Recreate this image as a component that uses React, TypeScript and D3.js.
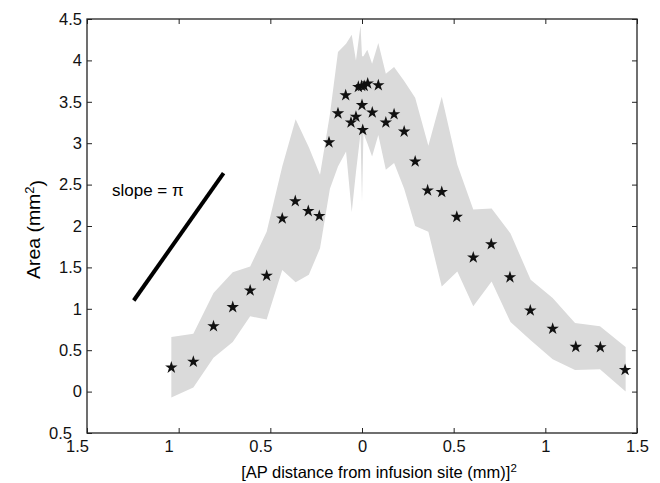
import { useEffect, useRef } from "react";
import * as d3 from "d3";

// star markers: signed squared AP distance vs. area
const point_x = [
  -1.04, -0.92, -0.81, -0.705, -0.61, -0.52, -0.435, -0.364, -0.293, -0.233, -0.18,
  -0.131, -0.089, -0.06, -0.033, -0.02, -0.002, 0.012, 0.031, 0.0, 0.004,
  0.056, 0.089, 0.13, 0.175, 0.23,
  0.29, 0.358, 0.435, 0.517, 0.607, 0.705, 0.807, 0.918, 1.04, 1.166, 1.3, 1.435
];
const point_y = [
  0.29, 0.36, 0.79, 1.02, 1.22, 1.4, 2.09, 2.3, 2.18, 2.12, 3.01,
  3.36, 3.58, 3.25, 3.32, 3.68, 3.69, 3.69, 3.72, 3.46, 3.16,
  3.37, 3.7, 3.25, 3.35, 3.14,
  2.78, 2.43, 2.41, 2.11, 1.62, 1.78, 1.38, 0.98, 0.76, 0.54, 0.535, 0.26
];

// grey spread band
const band_x = [
  -1.04, -0.92, -0.81, -0.705, -0.61, -0.52, -0.435, -0.362, -0.29, -0.229, -0.175,
  -0.131, -0.087, -0.056, -0.033, -0.008, 0.0, 0.008, 0.029, 0.055, 0.089, 0.13,
  0.175, 0.23, 0.29, 0.362, 0.435, 0.52, 0.607, 0.707, 0.81, 0.92, 1.04, 1.162,
  1.298, 1.438
];
const band_hi = [
  0.66, 0.7, 1.19, 1.44, 1.51, 1.93, 2.72, 3.29, 2.95, 2.62, 3.35,
  4.1, 4.2, 4.31, 4.0, 4.42, 4.05, 4.05, 4.13, 3.96, 4.21, 3.84,
  3.92, 3.75, 3.55, 2.97, 3.56, 2.74, 2.2, 2.21, 1.91, 1.35, 1.13, 0.83,
  0.79, 0.54
];
const band_lo = [
  -0.07, 0.05, 0.41, 0.6, 0.91, 0.87, 1.47, 1.32, 1.41, 1.73, 2.45,
  2.72, 2.9, 2.17, 2.65, 3.12, 2.29, 3.12, 3.0, 2.84, 3.1, 2.68,
  2.76, 2.45, 2.0, 1.93, 1.27, 1.45, 1.03, 1.33, 0.84, 0.62, 0.39, 0.26,
  0.27, 0.0
];

const x_ticks = [-1.5, -1, -0.5, 0, 0.5, 1, 1.5];
const x_tick_labels = ["1.5", "1", "0.5", "0", "0.5", "1", "1.5"];
const y_ticks = [-0.5, 0, 0.5, 1, 1.5, 2, 2.5, 3, 3.5, 4, 4.5];
const y_tick_labels = ["0.5", "0", "0.5", "1", "1.5", "2", "2.5", "3", "3.5", "4", "4.5"];

// reference line with slope pi
const slope_x = [-1.245, -0.755];
const slope_y0 = 1.1;
const slope_value = Math.PI;

export default function App() {
  const svg_ref = useRef<SVGSVGElement>(null);

  useEffect(() => {
    // constants
    const width = 660;
    const height = 483;
    const left = 87, right = 637, top = 19, bottom = 433;
    const font = "'Liberation Sans', Arial, Helvetica, sans-serif";

    const svg = d3.select(svg_ref.current);
    svg.selectAll("*").remove();
    svg.attr("width", width).attr("height", height);

    // scales
    const x_scale = d3.scaleLinear().domain([-1.5, 1.5]).range([left, right]);
    const y_scale = d3.scaleLinear().domain([-0.5, 4.5]).range([bottom, top]);

    // band
    const area = d3.area<number>()
      .x(i => x_scale(band_x[i]))
      .y0(i => y_scale(band_lo[i]))
      .y1(i => y_scale(band_hi[i]));
    svg.append("path")
      .datum(d3.range(band_x.length))
      .attr("d", area)
      .attr("fill", "#dadada");

    // slope line
    const slope_line = d3.line<number>()
      .x(d => x_scale(d))
      .y(d => y_scale(slope_y0 + (d - slope_x[0]) * slope_value));
    svg.append("path")
      .datum(slope_x)
      .attr("d", slope_line)
      .attr("stroke", "#000")
      .attr("stroke-width", 4)
      .attr("fill", "none");

    svg.append("text")
      .attr("x", 112)
      .attr("y", 196)
      .attr("font-family", font)
      .attr("font-size", 17)
      .text("slope = \u03c0");

    // stars
    const star = d3.symbol().type(d3.symbolStar).size(48);
    svg.selectAll(".dot")
      .data(d3.range(point_x.length)).enter()
      .append("path")
      .attr("class", "dot")
      .attr("d", star)
      .attr("transform", i => "translate(" + x_scale(point_x[i]) + "," + y_scale(point_y[i]) + ")")
      .attr("fill", "#111");

    // axes
    const style_axis = (g: any) => {
      g.select(".domain").remove();
      g.selectAll("line").attr("stroke", "#222");
      g.selectAll("text").attr("font-family", font).attr("font-size", 16.5).attr("fill", "#111");
      // negative labels sit where their (missing) minus sign would push them
      g.selectAll(".tick text").attr("dx", (d: number) => (d < 0 ? -10 : 0));
    };

    svg.append("g")
      .attr("transform", "translate(0," + bottom + ")")
      .call(d3.axisBottom(x_scale).tickValues(x_ticks).tickSizeInner(-5).tickSizeOuter(0).tickPadding(7)
        .tickFormat((d, i) => x_tick_labels[i]))
      .call(style_axis);
    svg.append("g")
      .attr("transform", "translate(0," + top + ")")
      .call(d3.axisTop(x_scale).tickValues(x_ticks).tickSizeInner(-5).tickSizeOuter(0).tickFormat(() => ""))
      .call(style_axis);
    svg.append("g")
      .attr("transform", "translate(" + left + ",0)")
      .call(d3.axisLeft(y_scale).tickValues(y_ticks).tickSizeInner(-5).tickSizeOuter(0).tickPadding(5)
        .tickFormat((d, i) => y_tick_labels[i]))
      .call(style_axis);
    svg.append("g")
      .attr("transform", "translate(" + right + ",0)")
      .call(d3.axisRight(y_scale).tickValues(y_ticks).tickSizeInner(-5).tickSizeOuter(0).tickFormat(() => ""))
      .call(style_axis);

    // box
    svg.append("rect")
      .attr("x", left)
      .attr("y", top)
      .attr("width", right - left)
      .attr("height", bottom - top)
      .attr("fill", "none")
      .attr("stroke", "#222")
      .attr("stroke-width", 1.3);

    // axis titles
    const x_title = svg.append("text")
      .attr("x", (left + right) / 2 + 17)
      .attr("y", 478)
      .attr("text-anchor", "middle")
      .attr("font-family", font)
      .attr("font-size", 16.5)
      .text("[AP distance from infusion site (mm)]");
    x_title.append("tspan").attr("dy", "-0.5em").attr("font-size", 11.5).text("2");

    const y_title = svg.append("text")
      .attr("transform", "translate(40,229.5) rotate(-90) scale(1.08,1)")
      .attr("text-anchor", "middle")
      .attr("font-family", font)
      .attr("font-size", 18)
      .text("Area (mm");
    y_title.append("tspan").attr("dy", "-0.5em").attr("font-size", 12).text("2");
    y_title.append("tspan").attr("dy", "0.5em").text(")");
  }, []);

  return (
    <div style={{ position: "absolute", left: 0, top: 0 }}>
      <svg ref={svg_ref}></svg>
    </div>
  );
}
